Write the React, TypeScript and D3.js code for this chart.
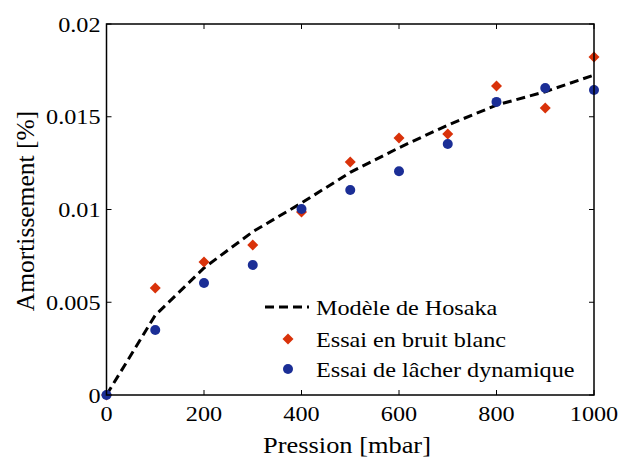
import React from "react";
import * as d3 from "d3";

const pressures = [0, 100, 200, 300, 400, 500, 600, 700, 800, 900, 1000];
const modelValues = [0, 0.0043, 0.00685, 0.0088, 0.01035, 0.012, 0.01333, 0.01455, 0.01563, 0.01635, 0.01725];
const whiteNoise = [0, 0.00577, 0.00717, 0.00809, 0.00987, 0.01256, 0.01385, 0.01407, 0.01666, 0.01547, 0.01822];
const releaseTest = [0, 0.0035, 0.00604, 0.00701, 0.01003, 0.01105, 0.01206, 0.01353, 0.0158, 0.01655, 0.01644];
const xTicks = [0, 200, 400, 600, 800, 1000];
const yTicks = [0, 0.005, 0.01, 0.015, 0.02];
const yTickLabels = ["0", "0.005", "0.01", "0.015", "0.02"];
const legendLabels = ["Modèle de Hosaka", "Essai en bruit blanc", "Essai de lâcher dynamique"];

const RED = "#d9320a";
const BLUE = "#1b2e96";
const FONT = '"Liberation Serif", "Times New Roman", Tinos, "DejaVu Serif", serif';

export default function App() {
  const W = 619, H = 459;
  const left = 106.5, right = 594, top = 24, bottom = 395;
  const x = d3.scaleLinear().domain([0, 1000]).range([left, right]);
  const y = d3.scaleLinear().domain([0, 0.02]).range([bottom, top]);
  const line = d3.line<number>().x((_, i) => x(pressures[i])).y((d) => y(d));
  const tick = 5;
  const fs = 22;
  const sx = 1.1; // horizontal stretch of the reference's glyphs
  const diamond = (cx: number, cy: number, r: number) =>
    `M${cx},${cy - r}L${cx + r},${cy}L${cx},${cy + r}L${cx - r},${cy}Z`;

  const legX = 316;
  const legRows = [307, 339, 369];
  const ts: React.CSSProperties = { fontFamily: FONT };

  const sText = (key: string, tx: number, ty: number, anchor: string, size: number, s: string) => (
    <text key={key} transform={`translate(${tx},${ty}) scale(${sx},1)`} textAnchor={anchor} fontSize={size} style={ts}>
      {s}
    </text>
  );

  return (
    <svg width={W} height={H} style={{ position: "absolute", left: 0, top: 0, fontFamily: FONT }}>
      <rect width={W} height={H} fill="#fff" />
      {xTicks.map((t) => (
        <g key={"xt" + t}>
          <line x1={x(t)} x2={x(t)} y1={bottom} y2={bottom - tick} stroke="#000" strokeWidth={1} />
          <line x1={x(t)} x2={x(t)} y1={top} y2={top + tick} stroke="#000" strokeWidth={1} />
          {sText("xl" + t, x(t), 420.5, "middle", fs, String(t))}
        </g>
      ))}
      {yTicks.map((t, i) => (
        <g key={"yt" + t}>
          <line x1={left} x2={left + tick} y1={y(t)} y2={y(t)} stroke="#000" strokeWidth={1} />
          <line x1={right} x2={right - tick} y1={y(t)} y2={y(t)} stroke="#000" strokeWidth={1} />
          {sText("yl" + t, 100.5, y(t) + 7.5, "end", fs, yTickLabels[i])}
        </g>
      ))}
      <path d={line(modelValues) || ""} fill="none" stroke="#000" strokeWidth={3} strokeDasharray="9,5" />
      {whiteNoise.map((v, i) => (
        <path key={"r" + i} d={diamond(x(pressures[i]), y(v), 5.5)} fill={RED} />
      ))}
      {releaseTest.map((v, i) => (
        <circle key={"b" + i} cx={x(pressures[i])} cy={y(v)} r={5} fill={BLUE} />
      ))}
      <rect x={left} y={top} width={right - left} height={bottom - top} fill="none" stroke="#000" strokeWidth={1.5} />
      <line x1={265} x2={309} y1={legRows[0]} y2={legRows[0]} stroke="#000" strokeWidth={3} strokeDasharray="9,5" />
      <path d={diamond(288, legRows[1], 5.5)} fill={RED} />
      <circle cx={288} cy={legRows[2]} r={5} fill={BLUE} />
      {legendLabels.map((l, i) => sText("lg" + i, legX, legRows[i] + 8, "start", fs, l))}
      {sText("xt", 347, 453, "middle", 24, "Pression [mbar]")}
      <text transform={`translate(34,211) rotate(-90)`} textAnchor="middle" fontSize={25.5} style={ts}>
        Amortissement [%]
      </text>
    </svg>
  );
}
